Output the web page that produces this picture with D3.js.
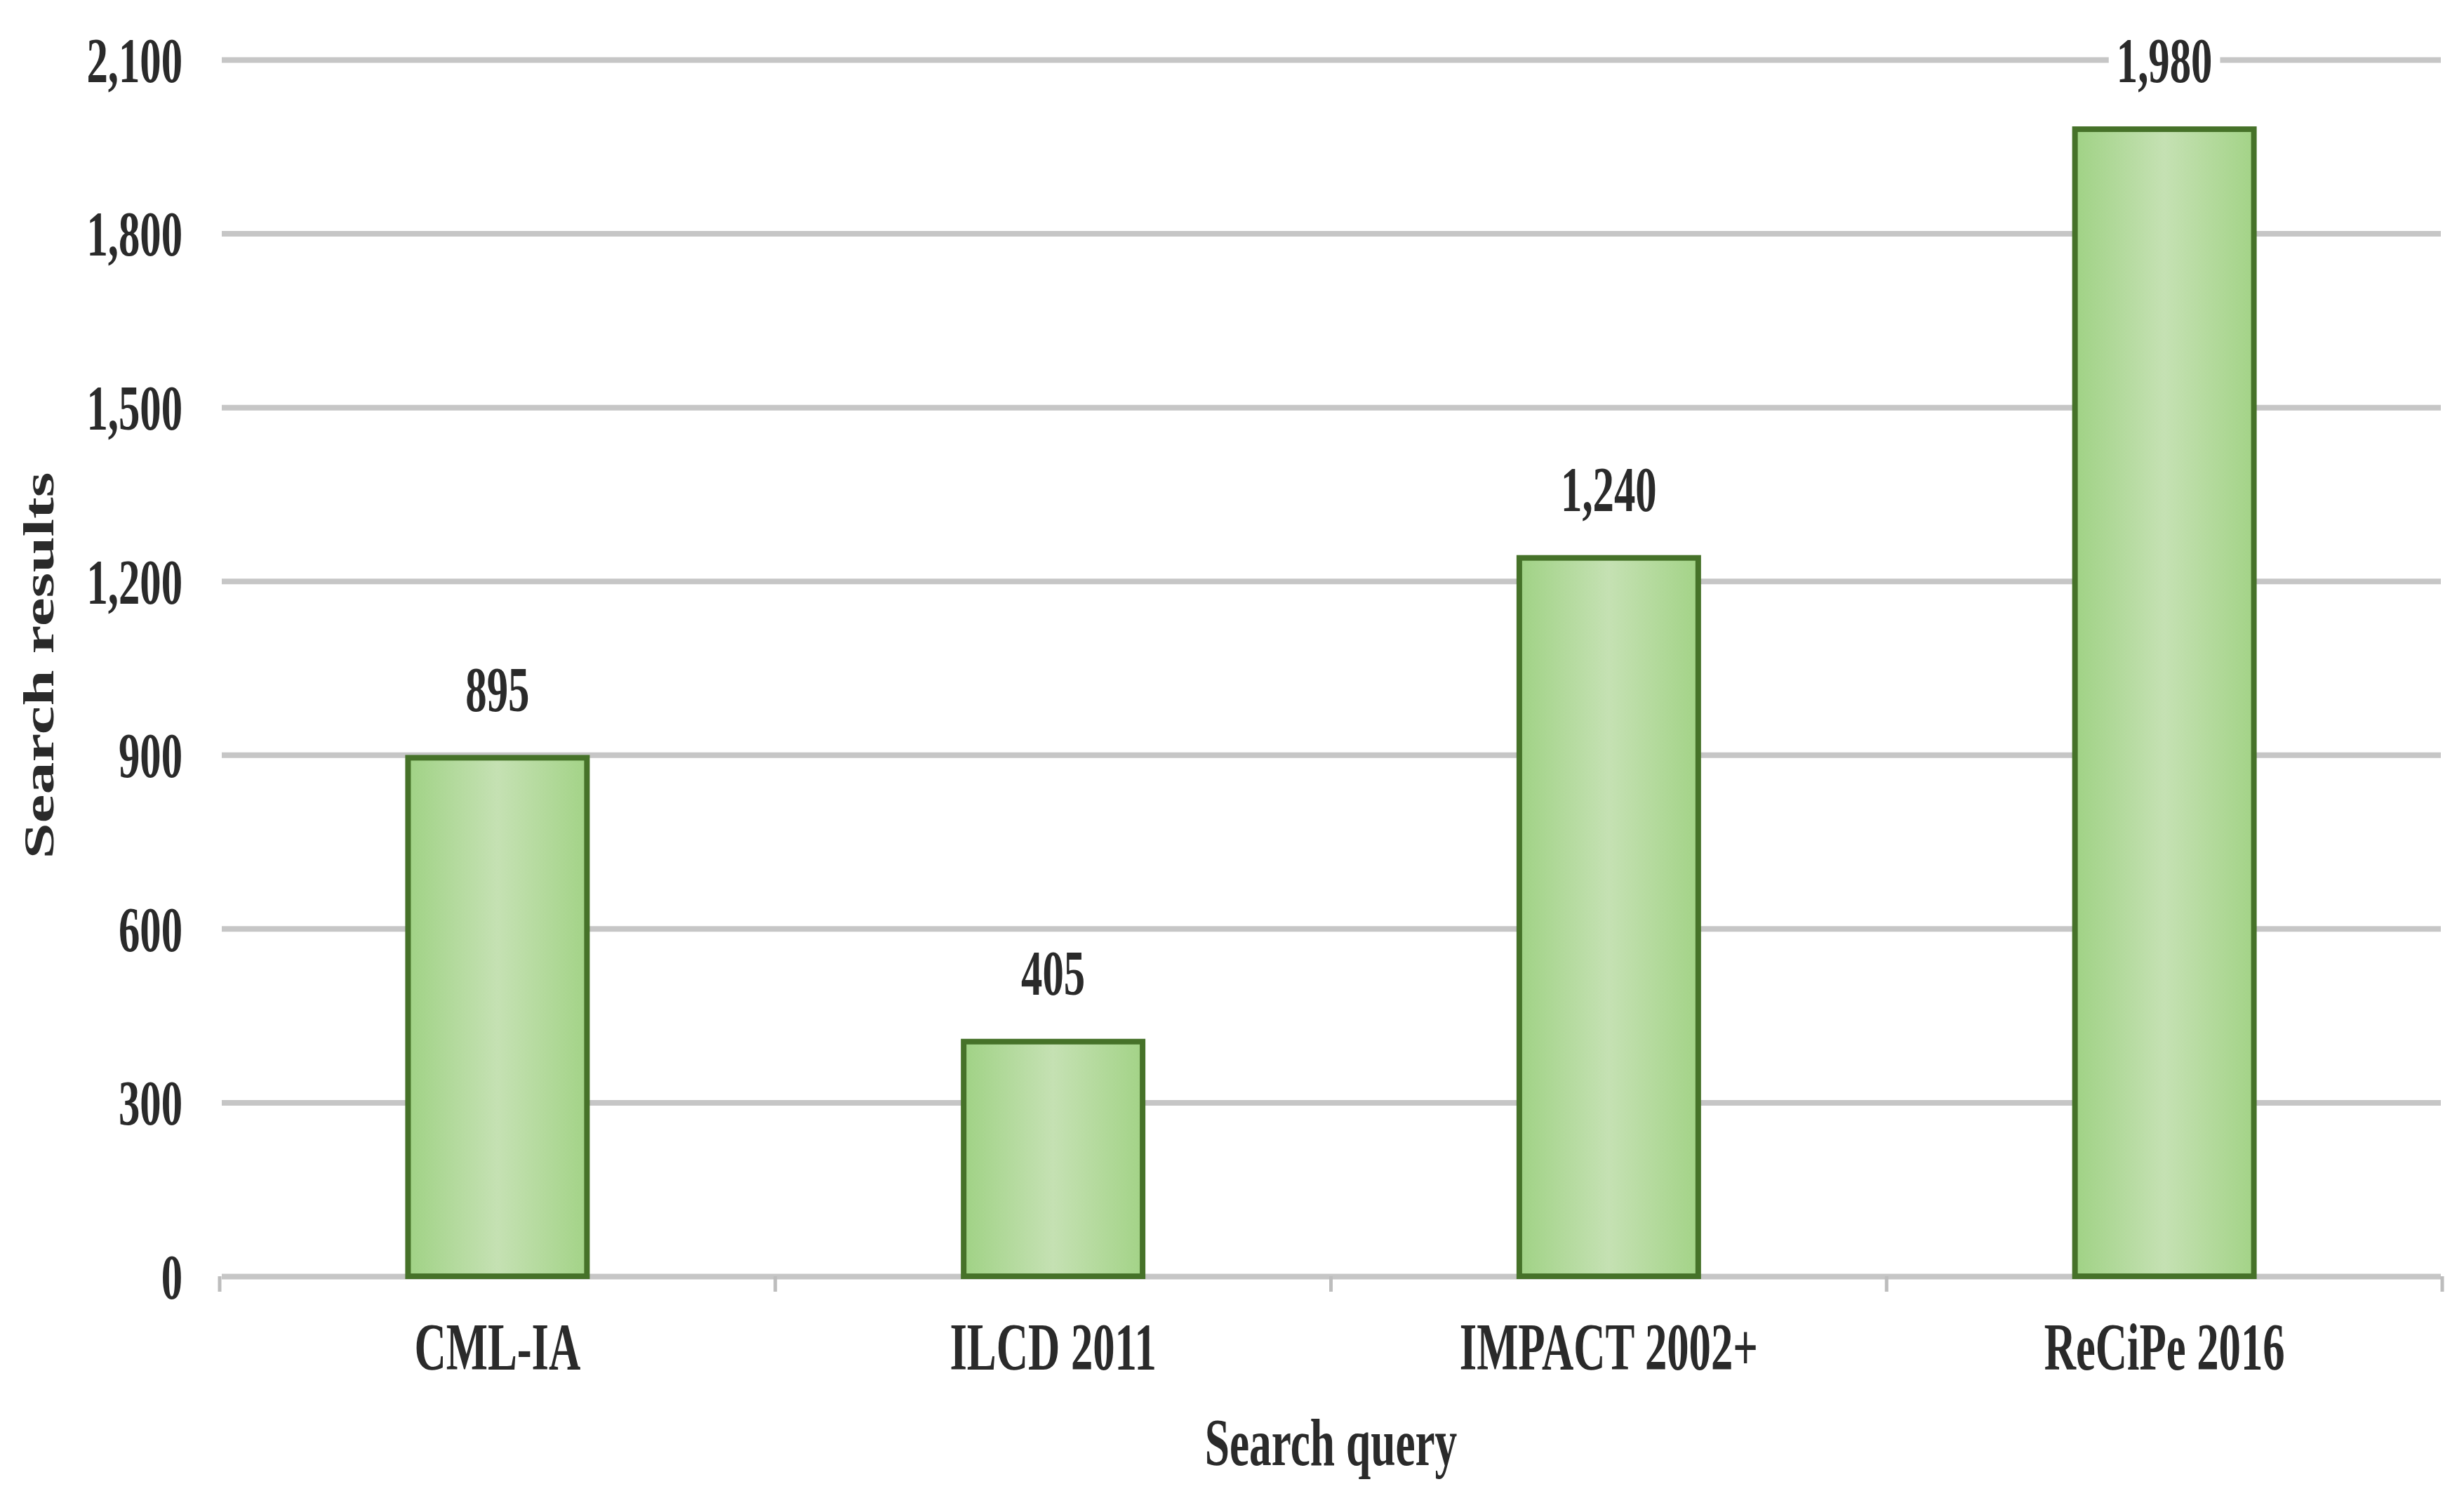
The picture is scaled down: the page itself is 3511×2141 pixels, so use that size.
<!DOCTYPE html>
<html><head><meta charset="utf-8">
<script src="https://cdn.jsdelivr.net/npm/d3@7"></script>
<style>html,body{margin:0;padding:0;background:#fff;} svg{display:block;}</style>
</head><body>
<svg id="chart" width="3511" height="2141"></svg>
<script>
const categories = ["CML-IA", "ILCD 2011", "IMPACT 2002+", "ReCiPe 2016"];
const values = [895, 405, 1240, 1980];
const valueLabels = ["895", "405", "1,240", "1,980"];
const yTicks = [0, 300, 600, 900, 1200, 1500, 1800, 2100];
const yTickLabels = ["0", "300", "600", "900", "1,200", "1,500", "1,800", "2,100"];
const xTitle = "Search query";
const yTitle = "Search results";

const SX = 0.66;
const FONT = "'Liberation Serif','Times New Roman',serif";
const TXT = "#2a2a2a";
const GRID = "#c6c6c6";

const svg = d3.select("#chart");
svg.append("rect").attr("width", 3511).attr("height", 2141).attr("fill", "#fff");

const plotL = 313, plotR = 3480, plotT = 85, plotB = 1818;
const x = d3.scaleBand().domain(categories).range([plotL, plotR]).paddingInner(0.678).paddingOuter(0.339);
const y = d3.scaleLinear().domain([0, 2100]).range([plotB, plotT]);

const defs = svg.append("defs");
const g = defs.append("linearGradient").attr("id", "barGrad").attr("x1", 0).attr("x2", 1).attr("y1", 0).attr("y2", 0);
g.append("stop").attr("offset", 0).attr("stop-color", "#a0d285");
g.append("stop").attr("offset", 0.5).attr("stop-color", "#c5e1b3");
g.append("stop").attr("offset", 1).attr("stop-color", "#a3d387");

// Y axis with gridlines
const yAxis = d3.axisLeft(y).tickValues(yTicks).tickFormat((d, i) => yTickLabels[i])
  .tickSize(-(3478 - 316)).tickPadding(0);
const yg = svg.append("g").attr("transform", "translate(316,0)").call(yAxis);
yg.select(".domain").remove();
yg.selectAll(".tick line").attr("stroke", GRID).attr("stroke-width", 8);
yg.selectAll(".tick text")
  .attr("font-family", FONT).attr("font-size", 92).attr("font-weight", "bold").attr("fill", TXT)
  .attr("text-anchor", "end")
  .attr("x", -56 / SX).attr("dy", "0.34em")
  .attr("transform", `scale(${SX},1)`);

// X axis boundary ticks
const boundaries = categories.map(c => x(c) - (x.step() - x.bandwidth()) / 2);
boundaries.push(plotR);
svg.append("g").selectAll("line").data(boundaries).join("line")
  .attr("x1", d => d).attr("x2", d => d).attr("y1", plotB).attr("y2", plotB + 22)
  .attr("stroke", "#bdbdbd").attr("stroke-width", 5);

// Bars
svg.append("g").selectAll("rect").data(categories).join("rect")
  .attr("x", d => x(d)).attr("width", x.bandwidth())
  .attr("y", (d, i) => y(values[i])).attr("height", (d, i) => plotB - y(values[i]))
  .attr("fill", "url(#barGrad)").attr("stroke", "#467229").attr("stroke-width", 8);

// X axis category labels
const xAxis = d3.axisBottom(x).tickSize(0).tickPadding(0);
const xg = svg.append("g").attr("transform", `translate(0,${plotB})`).call(xAxis);
xg.select(".domain").remove();
xg.selectAll(".tick text")
  .attr("font-family", FONT).attr("font-size", 95).attr("font-weight", "bold").attr("fill", TXT)
  .attr("y", 102).attr("dy", "0.33em")
  .attr("transform", `scale(${SX},1)`);

// Value labels with white background
const vl = svg.append("g").selectAll("g").data(categories).join("g")
  .attr("transform", (d, i) => `translate(${x(d) + x.bandwidth() / 2},${y(values[i]) - 98})`);
vl.append("rect")
  .attr("x", (d, i) => -(valueLabels[i].length * 0.47 * 92 * SX) / 2 - 8)
  .attr("width", (d, i) => valueLabels[i].length * 0.47 * 92 * SX + 16)
  .attr("y", -40).attr("height", 80).attr("fill", "#fff");
vl.append("text").text((d, i) => valueLabels[i])
  .attr("font-family", FONT).attr("font-size", 92).attr("font-weight", "bold").attr("fill", TXT)
  .attr("text-anchor", "middle").attr("dy", "0.34em")
  .attr("transform", `scale(${SX},1)`);

// Axis titles
svg.append("text").text(xTitle)
  .attr("font-family", FONT).attr("font-size", 96).attr("font-weight", "bold").attr("fill", TXT)
  .attr("text-anchor", "middle").attr("dy", "0.33em")
  .attr("transform", `translate(${(plotL + plotR) / 2},2055) scale(${SX},1)`);
svg.append("text").text(yTitle)
  .attr("font-family", FONT).attr("font-size", 92).attr("font-weight", "bold").attr("fill", TXT)
  .attr("text-anchor", "middle").attr("dy", "0.3em")
  .attr("transform", `translate(58,948) rotate(-90) scale(1,${SX})`);
</script>
</body></html>
